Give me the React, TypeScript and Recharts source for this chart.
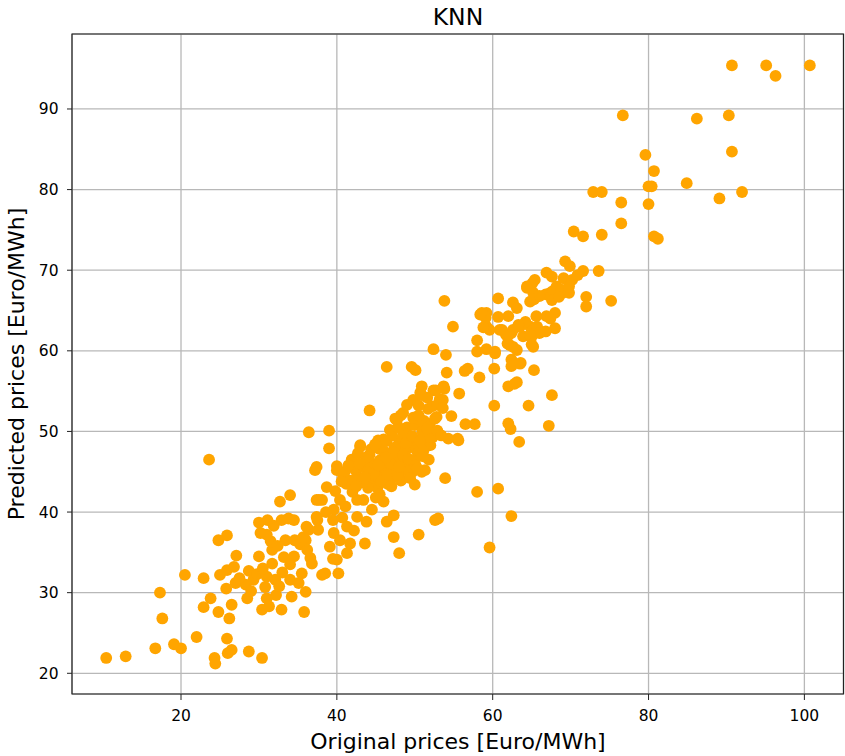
import { ScatterChart, Scatter, XAxis, YAxis, CartesianGrid, ReferenceArea } from 'recharts';

// Original (x) and predicted (y) prices, Euro/MWh, index-aligned
const originalPrices = [
  // low range
  10.4, 12.9, 16.7, 17.3, 17.6, 19.1, 20.0, 20.5, 22.0, 22.9,
  22.9, 23.8, 24.3, 24.4, 24.8, 24.8, 25.0, 25.9, 25.9, 26.0,
  26.5, 26.2, 26.5, 25.9, 27.1, 25.8, 27.0, 28.3, 28.5, 28.7,
  28.7, 29.3, 30.0, 30.0, 30.4, 30.4, 30.8, 31.0, 31.3, 31.5,
  31.7, 31.9, 31.7, 32.1, 32.2, 32.7, 32.9, 32.9, 33.2, 33.4,
  33.8, 34.0, 34.0, 34.2, 34.5, 34.6, 34.5, 35.1, 35.5, 35.8,
  36.0, 36.0, 36.4, 36.6, 36.8, 37.2, 37.7, 37.5, 38.1, 23.6,
  27.5, 29.8, 31.0, 33.0, 26.8, 30.5, 32.6, 29.0, 31.0, 32.4,
  35.3, 36.2, 34.0, 30.2,
  // middle band
  44.2, 36.4, 39.0, 39.0, 37.4, 40.0, 43.0, 45.3, 47.7, 48.5,
  49.8, 50.9, 50.7, 52.4, 52.2, 53.7, 53.9, 52.0, 51.8, 50.9,
  50.0, 48.3, 46.0, 43.4, 41.3, 38.7, 37.4, 47.3, 46.4, 43.8,
  42.6, 41.3, 41.1, 39.6, 39.5, 37.4, 37.6, 36.1, 35.7, 39.6,
  39.1, 40.4, 41.7, 43.6, 41.3, 40.0, 39.5, 38.5, 40.2, 47.3,
  50.5, 48.0, 53.0, 52.6, 42.6, 40.4, 38.1, 31.1,
  43.0, 41.9, 40.0, 40.8, 41.2, 51.3, 51.6, 50.6, 49.3, 47.9,
  48.3, 49.7, 47.5, 45.8, 44.5, 44.1, 42.4, 46.5, 48.2, 44.8,
  49.5, 46.7, 44.2, 41.8, 48.8, 50.4, 46.4, 48.0, 49.6, 48.2,
  49.0, 51.7, 43.5, 45.0, 46.0, 47.0, 45.5, 42.8, 44.8, 47.6,
  46.2, 43.8, 45.2, 42.0, 48.8, 50.2, 47.1, 49.0, 50.0, 48.5,
  46.8, 45.5, 44.0, 41.0, 42.7, 46.0, 49.8, 51.0, 47.4, 45.9,
  51.2, 52.8, 50.5, 53.2, 51.6,
  40.6, 41.5, 42.2, 42.9, 43.3, 43.9, 44.4, 44.7, 45.3, 45.7,
  46.1, 46.6, 46.9, 47.3, 47.8, 48.0, 48.5, 48.9, 49.2, 49.7,
  50.1, 50.6, 51.3, 51.9, 47.0, 45.5, 43.6, 46.3, 47.9, 49.4,
  42.5, 44.9, 50.8, 52.3, 45.0, 39.8, 38.6, 40.7, 42.2, 44.5,
  // upper band
  53.8, 54.9, 60.7, 62.6, 63.1, 64.4, 65.1, 65.3, 66.8, 67.4,
  68.2, 69.0, 68.0, 66.9, 65.6, 64.8, 63.5, 62.0, 60.7, 59.2,
  58.6, 59.2, 59.6, 60.9, 61.7, 62.6, 63.9, 65.0, 65.2, 58.0,
  58.0, 59.2, 60.3, 62.2, 63.1, 62.4, 63.6, 62.4, 65.3, 60.2,
  58.3, 56.8, 56.4, 52.4, 54.0, 46.4, 49.6, 50.1, 54.1, 62.0,
  62.8, 67.6, 64.6, 60.2, 67.2, 62.0, 62.3, 63.4, 57.7, 56.5,
  55.5, 54.3, 50.9, 52.7, 53.8, 55.7, 53.6, 52.9, 53.6,
  54.7, 47.5, 50.5, 52.6, 52.9, 51.6, 50.7, 51.1, 51.1, 50.3,
  76.5, 76.5, 70.4, 71.6, 74.0, 69.3, 69.9, 73.6, 71.6, 66.9,
  67.6, 69.1, 70.2, 70.9, 65.4, 64.4, 65.2, 66.0, 67.7, 68.8,
  69.8, 69.8, 64.8, 67.6, 68.5, 72.0, 72.0, 75.2, 67.4, 64.2,
  63.3, 68.0, 66.8, 65.7, 66.0, 64.8, 65.0, 62.4, 61.2, 61.9,
  59.1, 58.4, 58.8, 61.9, 62.6, 60.3, 63.5, 63.1,
  // high range
  90.7, 95.1, 96.3, 100.7, 76.7, 86.2, 90.3, 79.6, 90.7, 80.7,
  80.0, 80.4, 84.9, 72.9, 74.0, 80.0, 89.1, 92.0, 80.7, 81.2,
  // under-predicted
  58.0, 60.7, 62.4, 59.6, 55.6, 53.4,
];

const predictedPrices = [
  // low range
  21.9, 22.1, 23.1, 30.0, 26.8, 23.6, 23.1, 32.2, 24.5, 31.8,
  28.2, 29.3, 21.9, 21.2, 36.5, 27.6, 32.2, 37.1, 24.3, 22.5,
  22.9, 26.8, 28.5, 32.8, 34.6, 30.5, 31.2, 31.0, 29.3, 32.7,
  22.7, 31.6, 38.7, 34.5, 21.9, 27.9, 30.7, 29.3, 28.3, 36.4,
  35.3, 38.3, 33.6, 31.6, 29.7, 41.3, 39.0, 27.9, 34.4, 36.5,
  39.2, 42.1, 31.6, 29.5, 39.0, 36.5, 34.5, 31.2, 32.4, 27.6,
  30.1, 36.5, 37.8, 34.3, 33.6, 45.2, 41.5, 39.0, 32.2, 46.5,
  31.8, 32.3, 32.0, 32.5, 33.2, 33.0, 30.8, 30.2, 37.2, 35.8,
  36.0, 35.3, 33.5, 37.4,
  // middle band
  52.6, 49.9, 50.1, 47.9, 45.6, 45.7, 48.1, 48.9, 51.4, 52.3,
  53.9, 55.6, 54.8, 55.1, 53.1, 55.6, 44.2, 48.3, 46.5, 45.0,
  43.4, 44.0, 41.3, 41.5, 44.0, 43.1, 41.5, 39.6, 38.8, 38.8,
  39.4, 38.2, 40.7, 40.3, 39.0, 39.4, 37.8, 38.2, 36.9, 37.4,
  35.7, 36.5, 36.1, 36.1, 34.9, 34.1, 34.2, 32.4, 32.4, 36.9,
  37.2, 34.9, 39.2, 39.0, 41.5, 41.5, 41.5, 39.0,
  48.3, 46.5, 45.2, 44.5, 43.5, 45.2, 48.2, 48.9, 48.9, 47.6,
  46.3, 45.0, 45.0, 45.0, 46.0, 44.0, 45.2, 43.5, 43.9, 43.5,
  46.2, 47.1, 47.1, 43.9, 47.6, 46.9, 48.8, 48.8, 48.1, 52.0,
  53.3, 52.8, 45.5, 44.5, 46.2, 44.2, 47.8, 44.2, 45.8, 46.8,
  45.5, 46.8, 43.0, 42.5, 45.2, 47.7, 49.5, 50.5, 50.8, 49.8,
  50.2, 46.4, 43.0, 45.0, 47.3, 49.0, 51.7, 50.0, 48.0, 44.0,
  51.3, 51.8, 53.2, 54.0, 54.2,
  43.8, 45.8, 44.0, 46.0, 43.7, 45.0, 47.8, 44.8, 45.8, 43.8,
  47.5, 44.6, 46.0, 47.4, 44.6, 45.6, 47.0, 48.6, 46.6, 49.4,
  45.8, 47.6, 49.3, 50.9, 43.2, 42.2, 44.3, 46.8, 50.5, 44.2,
  43.2, 48.4, 51.3, 49.3, 41.8, 42.6, 40.0, 39.3, 37.7, 40.3,
  // upper band
  66.2, 63.0, 66.5, 66.0, 65.3, 68.0, 68.4, 66.4, 67.0, 67.2,
  68.0, 67.2, 64.7, 64.3, 64.3, 63.0, 63.0, 64.3, 64.2, 64.7,
  64.7, 63.0, 62.6, 62.6, 62.0, 62.6, 61.8, 61.8, 60.5, 61.3,
  59.9, 60.2, 59.9, 60.7, 60.1, 58.9, 58.5, 58.1, 57.6, 57.8,
  56.7, 57.8, 57.5, 60.2, 59.5, 58.0, 58.0, 57.6, 57.3, 55.6,
  55.9, 54.5, 53.2, 53.2, 50.7, 51.0, 50.3, 48.7, 50.9, 50.9,
  49.1, 49.1, 54.5, 55.1, 55.3, 54.7, 53.9, 53.3, 52.9,
  51.9, 51.6, 52.0, 51.6, 50.1, 50.4, 48.8, 47.6, 46.9, 45.4,
  78.4, 75.8, 74.8, 74.2, 74.4, 71.1, 70.5, 69.9, 69.9, 69.7,
  69.2, 69.0, 68.8, 69.4, 68.8, 67.8, 67.2, 66.8, 67.4, 67.6,
  67.2, 68.0, 66.1, 66.3, 66.7, 66.7, 65.5, 66.2, 64.0, 63.6,
  63.2, 62.8, 62.4, 63.0, 62.2, 61.9, 60.8, 62.2, 62.6, 61.8,
  64.1, 64.5, 62.9, 60.9, 60.5, 59.7, 58.4, 56.1,
  // high range
  95.4, 95.4, 94.1, 95.4, 89.2, 88.8, 89.2, 84.3, 84.7, 82.3,
  80.4, 80.4, 80.8, 79.7, 79.7, 78.2, 78.9, 79.7, 74.2, 73.9,
  // under-predicted
  42.5, 42.9, 39.5, 35.6, 48.9, 49.5,
];

const xTicks = [20, 40, 60, 80, 100];
const yTicks = [20, 30, 40, 50, 60, 70, 80, 90];

const X_DOMAIN: [number, number] = [6.01, 105.02];
const Y_DOMAIN: [number, number] = [17.43, 99.3];

const FONT = '"DejaVu Sans", sans-serif';
const ORANGE = '#ffa500';

const points = originalPrices.map((x, i) => ({ x, y: predictedPrices[i] }));

const tickStyle = { fill: '#000', fontSize: 15.5, fontFamily: FONT };

function Dot(props: any) {
  const { cx, cy } = props;
  return <circle cx={cx} cy={cy} r={5.9} fill={ORANGE} />;
}

export default function App() {
  return (
    <div
      style={{
        position: 'absolute',
        left: 0,
        top: 0,
        width: 845,
        height: 756,
        background: '#fff',
        fontFamily: FONT,
        color: '#000',
      }}
    >
      <div
        style={{
          position: 'absolute',
          left: 72,
          width: 772,
          top: 3,
          textAlign: 'center',
          fontSize: 23.5,
          lineHeight: '28px',
        }}
      >
        KNN
      </div>

      <ScatterChart width={845} height={756} margin={{ top: 34, right: 1.5, bottom: 0, left: 0 }}>
        <CartesianGrid stroke="#b8b8b8" strokeWidth={1.3} />
        <XAxis
          type="number"
          dataKey="x"
          domain={X_DOMAIN}
          ticks={xTicks}
          height={62}
          axisLine={false}
          tickSize={6}
          tickMargin={10}
          tickLine={{ stroke: '#222' }}
          tick={tickStyle}
        />
        <YAxis
          type="number"
          dataKey="y"
          domain={Y_DOMAIN}
          ticks={yTicks}
          width={72}
          axisLine={false}
          tickSize={5}
          tickMargin={8.5}
          tickLine={{ stroke: '#222' }}
          tick={tickStyle}
        />
        <Scatter data={points} shape={Dot} isAnimationActive={false} />
        <ReferenceArea
          x1={X_DOMAIN[0]}
          x2={X_DOMAIN[1]}
          y1={Y_DOMAIN[0]}
          y2={Y_DOMAIN[1]}
          ifOverflow="visible"
          fill="none"
          fillOpacity={0}
          stroke="#222"
          strokeWidth={1.2}
        />
      </ScatterChart>

      <div
        style={{
          position: 'absolute',
          left: 72,
          width: 772,
          top: 729,
          textAlign: 'center',
          fontSize: 22,
          lineHeight: '26px',
          whiteSpace: 'nowrap',
        }}
      >
        Original prices [Euro/MWh]
      </div>

      <div
        style={{
          position: 'absolute',
          left: 17 - 200,
          top: 364 - 13,
          width: 400,
          height: 26,
          textAlign: 'center',
          fontSize: 22,
          lineHeight: '26px',
          whiteSpace: 'nowrap',
          transform: 'rotate(-90deg)',
        }}
      >
        Predicted prices [Euro/MWh]
      </div>
    </div>
  );
}
